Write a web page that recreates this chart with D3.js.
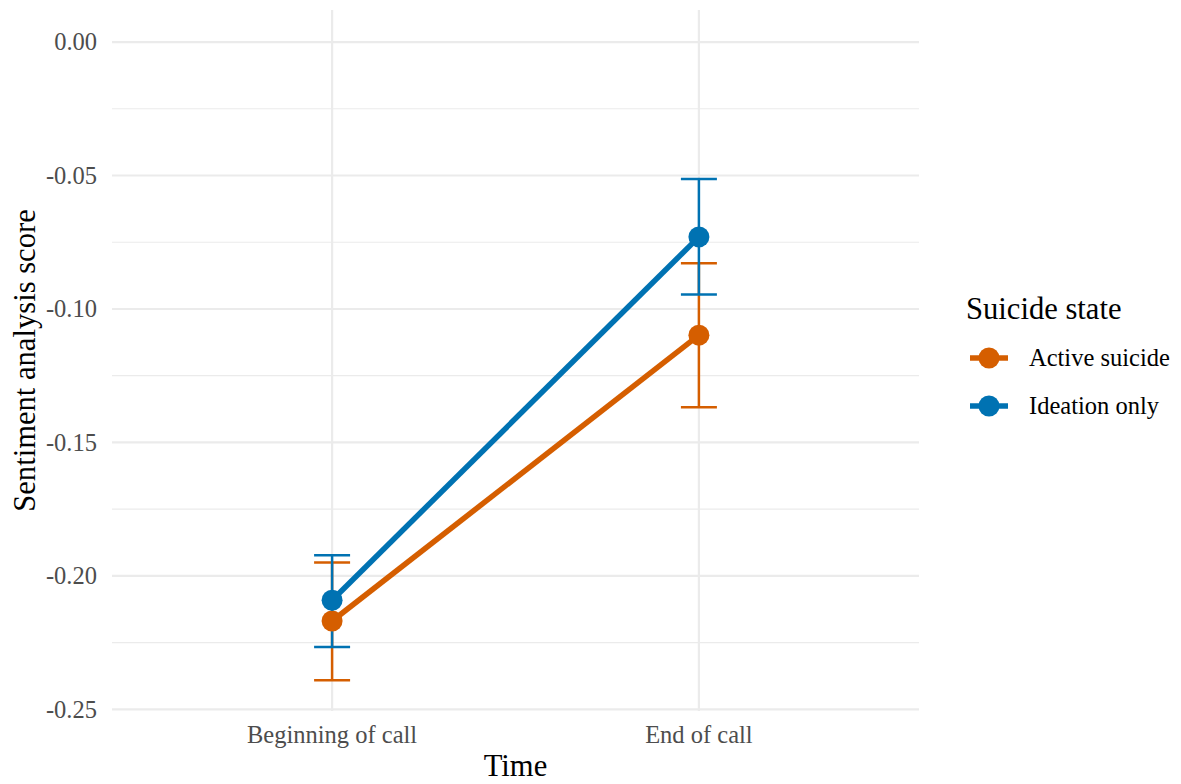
<!DOCTYPE html>
<html>
<head>
<meta charset="utf-8">
<script src="https://cdn.jsdelivr.net/npm/d3@7"></script>
<style>
  body { margin: 0; background: #fff; }
  text { font-family: "Liberation Serif", "Times New Roman", serif; }
</style>
</head>
<body>
<script>
// chart data
var timePoints = ["Beginning of call", "End of call"];
var groups = ["Active suicide", "Ideation only"];
var groupColors = ["#D55E00", "#0072B2"];
var activeMean = [-0.2169, -0.1098];
var activeLow = [-0.2391, -0.1368];
var activeHigh = [-0.1950, -0.0829];
var ideationMean = [-0.2091, -0.0730];
var ideationLow = [-0.2266, -0.0946];
var ideationHigh = [-0.1923, -0.0513];
var yTicks = [0, -0.05, -0.10, -0.15, -0.20, -0.25];
var yMinorTicks = [-0.025, -0.075, -0.125, -0.175, -0.225];

var svgWidth = 1181;
var svgHeight = 784;
var panel = { left: 112, right: 919, top: 10, bottom: 711 };

var svg = d3.select("body")
    .append("svg")
    .attr("width", svgWidth)
    .attr("height", svgHeight);

// discrete x: categories at 1 and 2, with 0.6 expansion on each side
var xLinear = d3.scaleLinear().domain([0.4, 2.6]).range([panel.left, panel.right]);
function xPos(i) { return xLinear(i + 1); }

var yScale = d3.scaleLinear()
    .domain([-0.2506, 0.012])
    .range([panel.bottom, panel.top]);

// grid
var grid = svg.append("g").attr("class", "grid");
grid.selectAll("line.minor")
    .data(yMinorTicks)
    .enter().append("line")
    .attr("class", "minor")
    .attr("x1", panel.left).attr("x2", panel.right)
    .attr("y1", d => yScale(d)).attr("y2", d => yScale(d))
    .attr("stroke", "#EBEBEB").attr("stroke-width", 1.2);
grid.selectAll("line.major")
    .data(yTicks)
    .enter().append("line")
    .attr("class", "major")
    .attr("x1", panel.left).attr("x2", panel.right)
    .attr("y1", d => yScale(d)).attr("y2", d => yScale(d))
    .attr("stroke", "#EBEBEB").attr("stroke-width", 2.2);
grid.selectAll("line.vert")
    .data(timePoints)
    .enter().append("line")
    .attr("class", "vert")
    .attr("x1", (d, i) => xPos(i)).attr("x2", (d, i) => xPos(i))
    .attr("y1", panel.top).attr("y2", panel.bottom)
    .attr("stroke", "#EBEBEB").attr("stroke-width", 2.2);

// axis labels
var yAxis = d3.axisLeft(yScale)
    .tickValues(yTicks)
    .tickSize(0)
    .tickPadding(15);
var yG = svg.append("g")
    .attr("transform", `translate(${panel.left},0)`)
    .call(yAxis);
yG.select(".domain").remove();
yG.selectAll("text")
    .attr("fill", "#4D4D4D")
    .style("font-size", "24.5px")
    .text(d => d3.format(".2f")(d).replace("−", "-"));

svg.append("g").selectAll("text")
    .data(timePoints)
    .enter().append("text")
    .attr("x", (d, i) => xPos(i))
    .attr("y", 743)
    .attr("text-anchor", "middle")
    .attr("fill", "#4D4D4D")
    .style("font-size", "24.5px")
    .text(d => d);

svg.append("text")
    .attr("x", (panel.left + panel.right) / 2)
    .attr("y", 776)
    .attr("text-anchor", "middle")
    .style("font-size", "30.6px")
    .text("Time");

svg.append("text")
    .attr("transform", `translate(35,${(panel.top + panel.bottom) / 2}) rotate(-90)`)
    .attr("text-anchor", "middle")
    .style("font-size", "30.6px")
    .text("Sentiment analysis score");

// series
var series = [
  { name: groups[0], color: groupColors[0], mean: activeMean, low: activeLow, high: activeHigh },
  { name: groups[1], color: groupColors[1], mean: ideationMean, low: ideationLow, high: ideationHigh }
];

var line = d3.line()
    .x((d, i) => xPos(i))
    .y(d => yScale(d));

series.forEach(function(s) {
  var g = svg.append("g");
  // error bars
  s.mean.forEach(function(m, i) {
    var x = xPos(i);
    g.append("line")
      .attr("x1", x).attr("x2", x)
      .attr("y1", yScale(s.low[i])).attr("y2", yScale(s.high[i]))
      .attr("stroke", s.color).attr("stroke-width", 2.5);
    [s.low[i], s.high[i]].forEach(function(v) {
      g.append("line")
        .attr("x1", x - 18).attr("x2", x + 18)
        .attr("y1", yScale(v)).attr("y2", yScale(v))
        .attr("stroke", s.color).attr("stroke-width", 2.5);
    });
  });
});

series.forEach(function(s) {
  var g = svg.append("g");
  g.append("path")
    .datum(s.mean)
    .attr("d", line)
    .attr("fill", "none")
    .attr("stroke", s.color)
    .attr("stroke-width", 5.5);
  g.selectAll("circle")
    .data(s.mean)
    .enter().append("circle")
    .attr("cx", (d, i) => xPos(i))
    .attr("cy", d => yScale(d))
    .attr("r", 10.5)
    .attr("fill", s.color);
});

// legend
var legend = svg.append("g").attr("transform", "translate(966,0)");
legend.append("text")
    .attr("x", 0).attr("y", 319)
    .style("font-size", "30.6px")
    .text("Suicide state");
var items = legend.selectAll("g.item")
    .data(series)
    .enter().append("g")
    .attr("class", "item")
    .attr("transform", (d, i) => `translate(0,${358 + i * 48})`);
items.append("line")
    .attr("x1", 4).attr("x2", 42)
    .attr("y1", 0).attr("y2", 0)
    .attr("stroke", d => d.color).attr("stroke-width", 5.5);
items.append("circle")
    .attr("cx", 23).attr("cy", 0).attr("r", 10.5)
    .attr("fill", d => d.color);
items.append("text")
    .attr("x", 63).attr("y", 8)
    .style("font-size", "24.5px")
    .text(d => d.name);
</script>
</body>
</html>
